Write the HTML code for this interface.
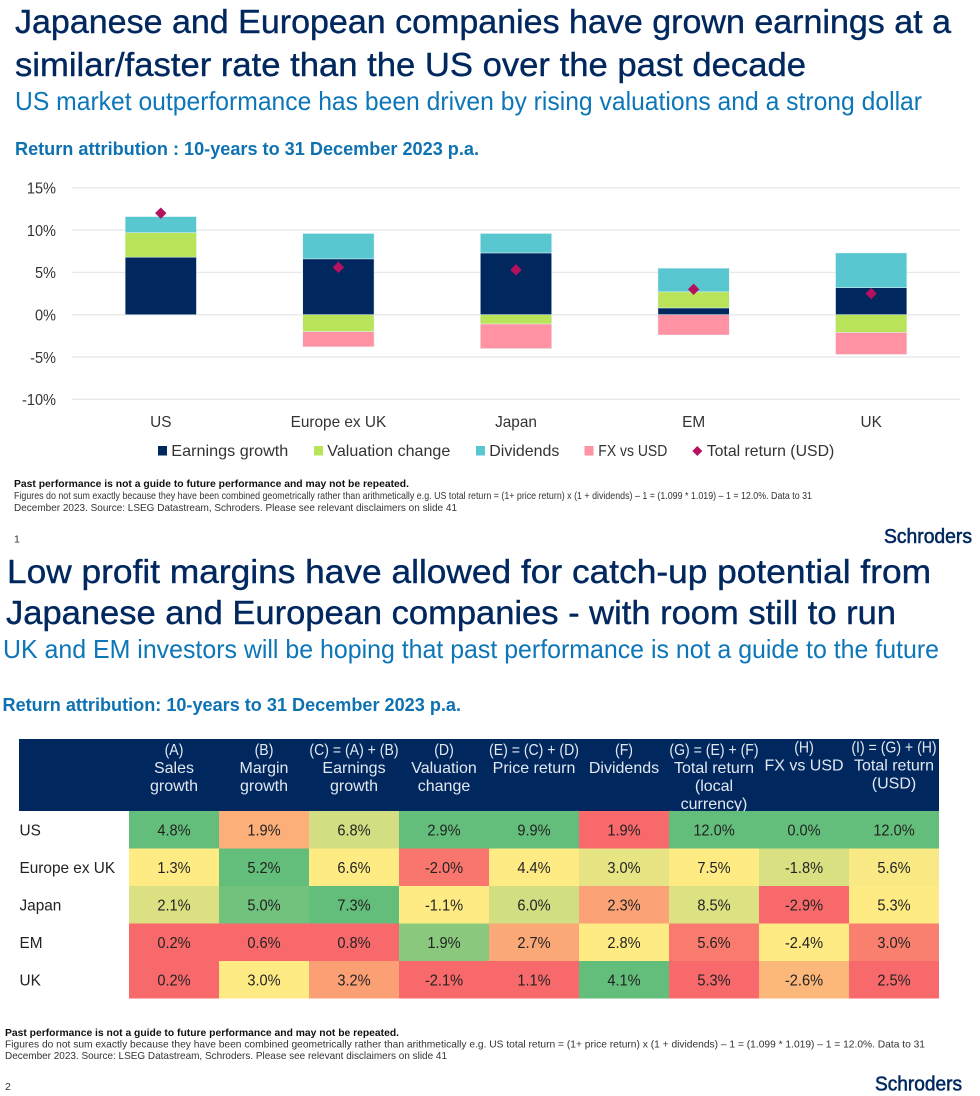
<!DOCTYPE html>
<html lang="en">
<head>
<meta charset="utf-8">
<title>Return attribution: 10-years to 31 December 2023</title>
<style>
html,body{margin:0;padding:0;background:#fff;}
svg{display:block;}
text{font-family:"Liberation Sans",sans-serif;}
.title{font-size:33.5px;fill:#00285f;stroke:#00285f;stroke-width:.4px;}
.sub{font-size:26px;fill:#0d76b8;}
.section{font-size:18px;font-weight:bold;fill:#0e72b2;}
.note{font-size:10.5px;fill:#333;}
.note-b{font-size:10.5px;font-weight:bold;fill:#111;}
.logo{font-size:20px;fill:#00285f;stroke:#00285f;stroke-width:.55px;}
.tick,.cat,.legend{font-size:16px;fill:#333;}
.hdr{font-size:16px;fill:#e2e8f0;text-anchor:middle;}
.rowlab{font-size:16px;fill:#222;}
.val{font-size:15.7px;fill:#222;text-anchor:middle;}
</style>
</head>
<body>
<svg id="page" xmlns="http://www.w3.org/2000/svg" width="980" height="1096" viewBox="0 0 980 1096">
  <rect x="0" y="0" width="980" height="1096" fill="#fff"/>

  <g>
    <text class="title" x="15" y="33" textLength="936" lengthAdjust="spacingAndGlyphs">Japanese and European companies have grown earnings at a</text>
    <text class="title" x="15" y="76" textLength="791" lengthAdjust="spacingAndGlyphs">similar/faster rate than the US over the past decade</text>
    <text class="sub" x="15" y="110" textLength="907" lengthAdjust="spacingAndGlyphs">US market outperformance has been driven by rising valuations and a strong dollar</text>
    <text class="section" x="15" y="155" textLength="464" lengthAdjust="spacingAndGlyphs">Return attribution : 10-years to 31 December 2023 p.a.</text>
  </g>

  <g id="chart"></g>

  <g>
    <g>
      <rect x="158" y="446" width="9" height="9.5" fill="#00285f"/>
      <text class="legend" x="171.3" y="456" textLength="117" lengthAdjust="spacingAndGlyphs">Earnings growth</text>
    </g>
    <g>
      <rect x="314" y="446" width="9" height="9.5" fill="#b9e45a"/>
      <text class="legend" x="327.3" y="456" textLength="123" lengthAdjust="spacingAndGlyphs">Valuation change</text>
    </g>
    <g>
      <rect x="476" y="446" width="9" height="9.5" fill="#58c7d0"/>
      <text class="legend" x="489.3" y="456" textLength="70" lengthAdjust="spacingAndGlyphs">Dividends</text>
    </g>
    <g>
      <rect x="584.5" y="446" width="9" height="9.5" fill="#ff92a3"/>
      <text class="legend" x="598.3" y="456" textLength="69" lengthAdjust="spacingAndGlyphs">FX vs USD</text>
    </g>
    <g>
      <polygon points="697.3,446 702.3,451 697.3,456 692.3,451" fill="#b5115e"/>
      <text class="legend" x="706.7" y="456" textLength="127.6" lengthAdjust="spacingAndGlyphs">Total return (USD)</text>
    </g>
  </g>

  <g>
    <text class="note-b" x="14" y="487" textLength="395" lengthAdjust="spacingAndGlyphs">Past performance is not a guide to future performance and may not be repeated.</text>
    <text class="note" x="14" y="499" textLength="798" lengthAdjust="spacingAndGlyphs">Figures do not sum exactly because they have been combined geometrically rather than arithmetically e.g. US total return = (1+ price return) x (1 + dividends) – 1 =  (1.099 * 1.019) – 1 = 12.0%. Data to 31</text>
    <text class="note" x="14" y="511" textLength="443" lengthAdjust="spacingAndGlyphs">December 2023. Source: LSEG Datastream, Schroders. Please see relevant disclaimers on slide 41</text>
    <text class="note" x="14" y="542.5">1</text>
    <text class="logo" x="884" y="543" textLength="88" lengthAdjust="spacingAndGlyphs">Schroders</text>
  </g>

  <g>
    <text class="title" x="7" y="583" textLength="924" lengthAdjust="spacingAndGlyphs">Low profit margins have allowed for catch-up potential from</text>
    <text class="title" x="6" y="624" textLength="890" lengthAdjust="spacingAndGlyphs">Japanese and European companies - with room still to run</text>
    <text class="sub" x="3" y="658" textLength="936" lengthAdjust="spacingAndGlyphs">UK and EM investors will be hoping that past performance is not a guide to the future</text>
    <text class="section" x="2.5" y="711" textLength="458.5" lengthAdjust="spacingAndGlyphs">Return attribution: 10-years to 31 December 2023 p.a.</text>
  </g>

  <g id="heatmap"></g>

  <g>
    <text class="note-b" x="5" y="1036" textLength="394" lengthAdjust="spacingAndGlyphs">Past performance is not a guide to future performance and may not be repeated.</text>
    <text class="note" x="5" y="1047.5" textLength="920" lengthAdjust="spacingAndGlyphs">Figures do not sum exactly because they have been combined geometrically rather than arithmetically e.g. US total return = (1+ price return) x (1 + dividends) – 1 =  (1.099 * 1.019) – 1 = 12.0%. Data to 31</text>
    <text class="note" x="5" y="1059" textLength="442" lengthAdjust="spacingAndGlyphs">December 2023. Source: LSEG Datastream, Schroders. Please see relevant disclaimers on slide 41</text>
    <text class="note" x="5" y="1090">2</text>
    <text class="logo" x="875" y="1090.5" textLength="87" lengthAdjust="spacingAndGlyphs">Schroders</text>
  </g>
</svg>

<script>
var SVGNS = 'http://www.w3.org/2000/svg';

/* ---------- stacked chart data ---------- */
var categories = ['US', 'Europe ex UK', 'Japan', 'EM', 'UK'];
var earningsGrowth = [6.8, 6.6, 7.3, 0.8, 3.2];
var valuationChange = [2.9, -2.0, -1.1, 1.9, -2.1];
var dividends = [1.9, 3.0, 2.3, 2.8, 4.1];
var fxVsUsd = [0.0, -1.8, -2.9, -2.4, -2.6];
var totalReturnUsd = [12.0, 5.6, 5.3, 3.0, 2.5];
var tickValues = [15, 10, 5, 0, -5, -10];

/* ---------- table data (one array per column) ---------- */
var tableRows = ['US', 'Europe ex UK', 'Japan', 'EM', 'UK'];
var salesGrowthCol = [4.8, 1.3, 2.1, 0.2, 0.2];
var marginGrowthCol = [1.9, 5.2, 5.0, 0.6, 3.0];
var earningsGrowthCol = [6.8, 6.6, 7.3, 0.8, 3.2];
var valuationChangeCol = [2.9, -2.0, -1.1, 1.9, -2.1];
var priceReturnCol = [9.9, 4.4, 6.0, 2.7, 1.1];
var dividendsCol = [1.9, 3.0, 2.3, 2.8, 4.1];
var totalLocalCol = [12.0, 7.5, 8.5, 5.6, 5.3];
var fxCol = [0.0, -1.8, -2.9, -2.4, -2.6];
var totalUsdCol = [12.0, 5.6, 5.3, 3.0, 2.5];
var tableHeaders = [
  ['(A)', 'Sales', 'growth'],
  ['(B)', 'Margin', 'growth'],
  ['(C) = (A) + (B)', 'Earnings', 'growth'],
  ['(D)', 'Valuation', 'change'],
  ['(E) = (C) + (D)', 'Price return'],
  ['(F)', 'Dividends'],
  ['(G) = (E) + (F)', 'Total return', '(local', 'currency)'],
  ['(H)', 'FX vs USD'],
  ['(I) = (G) + (H)', 'Total return', '(USD)']
];

/* narrows an SVG text element to approximate the reference's typeface widths */
function squeeze(el, factor) {
  el.setAttribute('textLength', (el.getComputedTextLength() * factor).toFixed(2));
  el.setAttribute('lengthAdjust', 'spacingAndGlyphs');
}

/* ---------- chart axes ---------- */
var plotLeft = 72, plotRight = 960, zeroY = 314.7, pxPerPct = 8.46, barWidth = 71.3;
function yScale(v) { return zeroY - v * pxPerPct; }
function xBand(i) { return plotLeft + (plotRight - plotLeft) * (i + 0.5) / categories.length; }

var chart = document.getElementById('chart');

tickValues.forEach(function (t) {
  var line = document.createElementNS(SVGNS, 'line');
  
  
  line.setAttribute('x1', plotLeft);
  line.setAttribute('x2', plotRight);
  line.setAttribute('y1', yScale(t));
  line.setAttribute('y2', yScale(t));
  line.setAttribute('stroke', '#e9e9e9');
  line.setAttribute('stroke-width', '1.4');
  chart.appendChild(line);

  var label = document.createElementNS(SVGNS, 'text');
  
  
  label.setAttribute('class', 'tick');
  label.setAttribute('x', 56);
  label.setAttribute('y', yScale(t) + 5.8);
  label.setAttribute('text-anchor', 'end');
  label.textContent = t + '%';
  chart.appendChild(label);
  squeeze(label, 0.91);
});

var stackSeries = [earningsGrowth, valuationChange, dividends, fxVsUsd];
var stackColors = ['#00285f', '#b9e45a', '#58c7d0', '#ff92a3'];
var stackNames = ['earnings', 'valuation', 'dividends', 'fx'];

categories.forEach(function (cat, i) {
  var pos = 0, neg = 0;
  stackSeries.forEach(function (series, s) {
    var v = series[i];
    if (v === 0) { return; }
    var start = v > 0 ? pos : neg;
    var end = start + v;
    if (v > 0) { pos = end; } else { neg = end; }
    var bar = document.createElementNS(SVGNS, 'rect');
    
    
    bar.setAttribute('x', xBand(i) - barWidth / 2);
    bar.setAttribute('y', Math.min(yScale(start), yScale(end)));
    bar.setAttribute('width', barWidth);
    bar.setAttribute('height', Math.abs(yScale(end) - yScale(start)));
    bar.setAttribute('fill', stackColors[s]);
    bar.setAttribute('stroke', '#e4f2f6');
    bar.setAttribute('stroke-width', '0.5');
    chart.appendChild(bar);
  });

  var label = document.createElementNS(SVGNS, 'text');
  
  
  label.setAttribute('class', 'cat');
  label.setAttribute('x', xBand(i));
  label.setAttribute('y', 427);
  label.setAttribute('text-anchor', 'middle');
  label.textContent = cat;
  chart.appendChild(label);
  squeeze(label, 0.96);
});

categories.forEach(function (cat, i) {
  var cx = xBand(i), cy = yScale(totalReturnUsd[i]), r = 5.7;
  var marker = document.createElementNS(SVGNS, 'polygon');
  
  
  marker.setAttribute('points', cx + ',' + (cy - r) + ' ' + (cx + r) + ',' + cy + ' ' + cx + ',' + (cy + r) + ' ' + (cx - r) + ',' + cy);
  marker.setAttribute('fill', '#b5115e');
  chart.appendChild(marker);
});

/* ---------- heatmap table ---------- */
var tableColumns = [salesGrowthCol, marginGrowthCol, earningsGrowthCol, valuationChangeCol, priceReturnCol, dividendsCol, totalLocalCol, fxCol, totalUsdCol];
var tableLeft = 19, firstColLeft = 129, colWidth = 90, headerTop = 739, headerBottom = 811, rowHeight = 37.5;
function xCol(c) { return firstColLeft + c * colWidth; }
function yRow(r) { return headerBottom + r * rowHeight; }

/* three-colour scale per column: min red, median yellow, max green */
var lowRgb = [248, 105, 107], midRgb = [255, 235, 132], highRgb = [99, 190, 123];
function mix(a, b, t) {
  return 'rgb(' + a.map(function (x, k) { return Math.round(x + (b[k] - x) * t); }).join(',') + ')';
}
function heatColor(v, column) {
  var sorted = column.slice().sort(function (a, b) { return a - b; });
  var min = sorted[0], med = sorted[Math.floor(sorted.length / 2)], max = sorted[sorted.length - 1];
  if (v <= med) { return med === min ? mix(lowRgb, midRgb, 1) : mix(lowRgb, midRgb, (v - min) / (med - min)); }
  return mix(midRgb, highRgb, (v - med) / (max - med));
}

var heatmap = document.getElementById('heatmap');

var headerBg = document.createElementNS(SVGNS, 'rect');


headerBg.setAttribute('x', tableLeft);
headerBg.setAttribute('y', headerTop);
headerBg.setAttribute('width', xCol(tableColumns.length) - tableLeft);
headerBg.setAttribute('height', headerBottom - headerTop);
headerBg.setAttribute('fill', '#00285f');
heatmap.appendChild(headerBg);

tableHeaders.forEach(function (lines, c) {
  var raised = c >= 7 ? 2.3 : 0;
  lines.forEach(function (line, l) {
    var head = document.createElementNS(SVGNS, 'text');
    
    
    head.setAttribute('class', 'hdr');
    head.setAttribute('x', xCol(c) + colWidth / 2);
    head.setAttribute('y', 755 - raised + l * 18);
    head.textContent = line;
    heatmap.appendChild(head);
    if (/^\([A-I]\)/.test(line)) { squeeze(head, 0.88); }
  });
});

tableRows.forEach(function (rowName, r) {
  var rowLabel = document.createElementNS(SVGNS, 'text');
  
  
  rowLabel.setAttribute('class', 'rowlab');
  rowLabel.setAttribute('x', 19.5);
  rowLabel.setAttribute('y', yRow(r) + rowHeight / 2 + 5.8);
  rowLabel.textContent = rowName;
  heatmap.appendChild(rowLabel);
  squeeze(rowLabel, 0.96);

  tableColumns.forEach(function (column, c) {
    var cell = document.createElementNS(SVGNS, 'rect');
    
    
    cell.setAttribute('x', xCol(c));
    cell.setAttribute('y', yRow(r));
    cell.setAttribute('width', colWidth);
    cell.setAttribute('height', rowHeight);
    cell.setAttribute('fill', heatColor(column[r], column));
    heatmap.appendChild(cell);

    var valueText = document.createElementNS(SVGNS, 'text');
    
    
    valueText.setAttribute('class', 'val');
    valueText.setAttribute('x', xCol(c) + colWidth / 2);
    valueText.setAttribute('y', yRow(r) + rowHeight / 2 + 5.6);
    valueText.textContent = column[r].toFixed(1) + '%';
    heatmap.appendChild(valueText);
    squeeze(valueText, 0.93);
  });
});
</script>
</body>
</html>
